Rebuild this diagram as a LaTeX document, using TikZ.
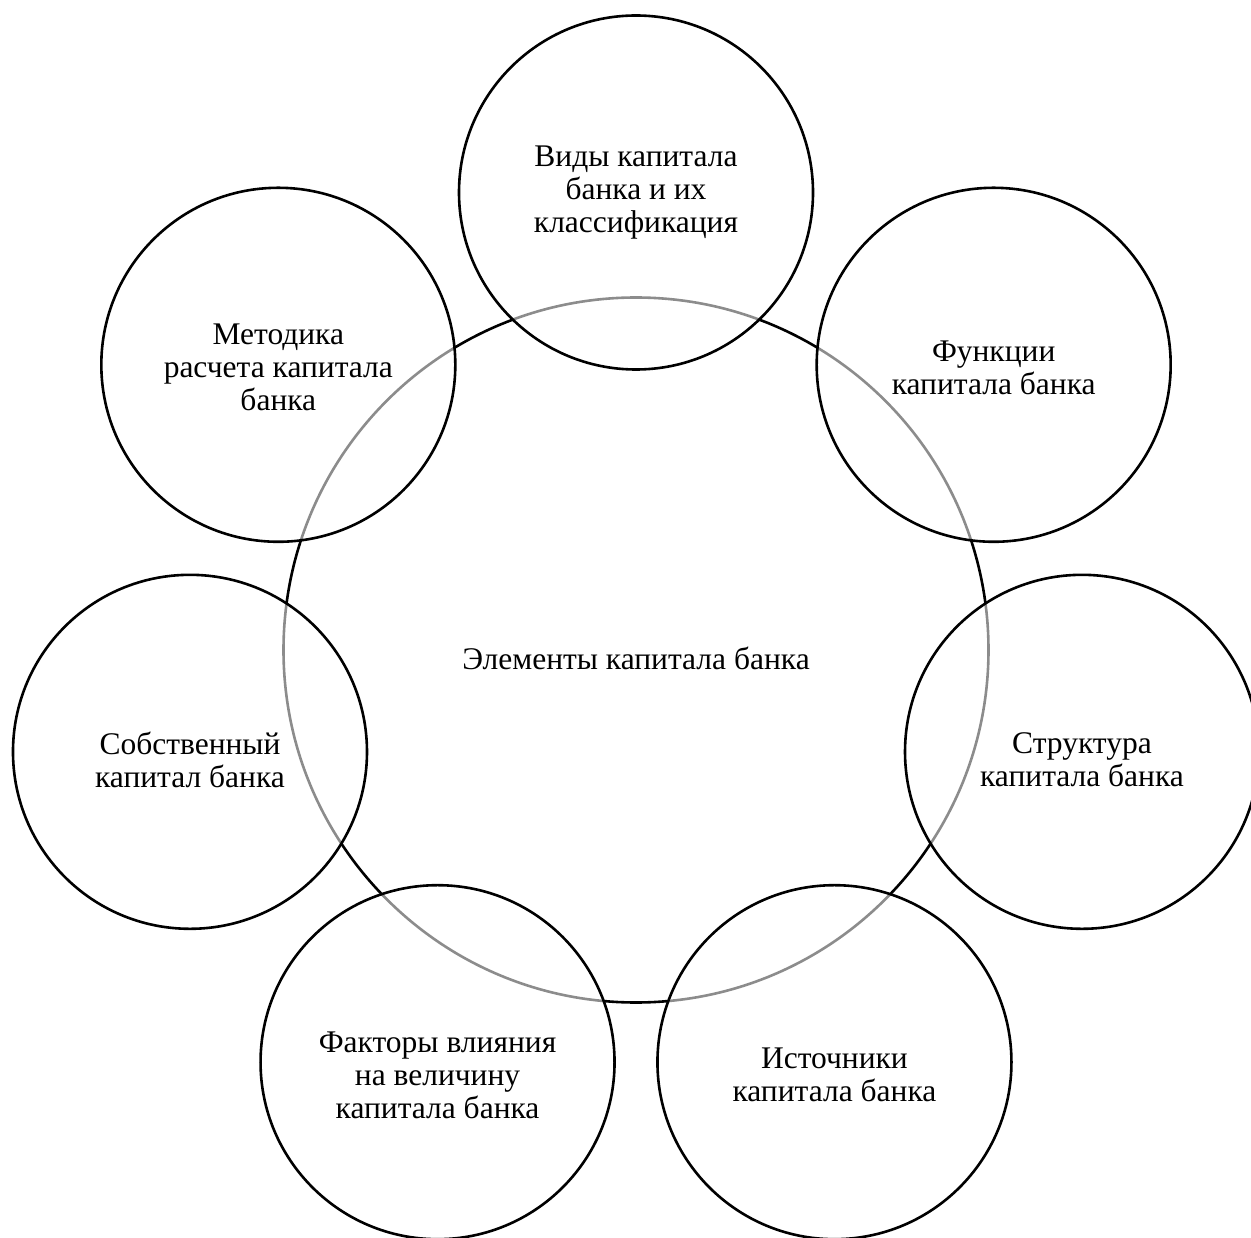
\documentclass[tikz,border=0pt]{standalone}
\usepackage{fontspec}
\setmainfont{Liberation Serif}
\usetikzlibrary{calc}
\begin{document}
\begin{tikzpicture}[x=1pt,y=1pt,
  ring/.style={circle,draw=black,line width=2.6pt,inner sep=0pt,minimum size=354pt},
  outer/.style={ring,fill=white,fill opacity=0.55,draw opacity=1},
  lbl/.style={align=center,font=\fontsize{31.5}{33}\selectfont,text=black,inner sep=0pt}]
\useasboundingbox (0,0) rectangle (1251,-1238);
\coordinate (C) at (636,-650);
\node[ring,minimum size=705pt] (main) at (C) {};
\foreach \i/\a in {1/90,2/141.43,3/192.86,4/244.29,5/295.71,6/347.14,7/38.57}{
  \node[outer] (c\i) at ($(C)+(\a:457.5)$) {};
}
\node[lbl] (tmain) at ($(main)+(0,-8)$) {Элементы капитала банка};
\node[lbl] (t1) at ($(c1)+(0,0)$) {Виды капитала\\банка и их\\классификация};
\node[lbl] (t2) at ($(c2)+(0,-3)$) {Методика\\расчета капитала\\банка};
\node[lbl] (t3) at ($(c3)+(0,-8)$) {Собственный\\капитал банка};
\node[lbl] (t4) at ($(c4)+(0,-13)$) {Факторы влияния\\на величину\\капитала банка};
\node[lbl] (t5) at ($(c5)+(0,-13)$) {Источники\\капитала банка};
\node[lbl] (t6) at ($(c6)+(0,-8)$) {Структура\\капитала банка};
\node[lbl] (t7) at ($(c7)+(0,-3)$) {Функции\\капитала банка};
\end{tikzpicture}
\end{document}
